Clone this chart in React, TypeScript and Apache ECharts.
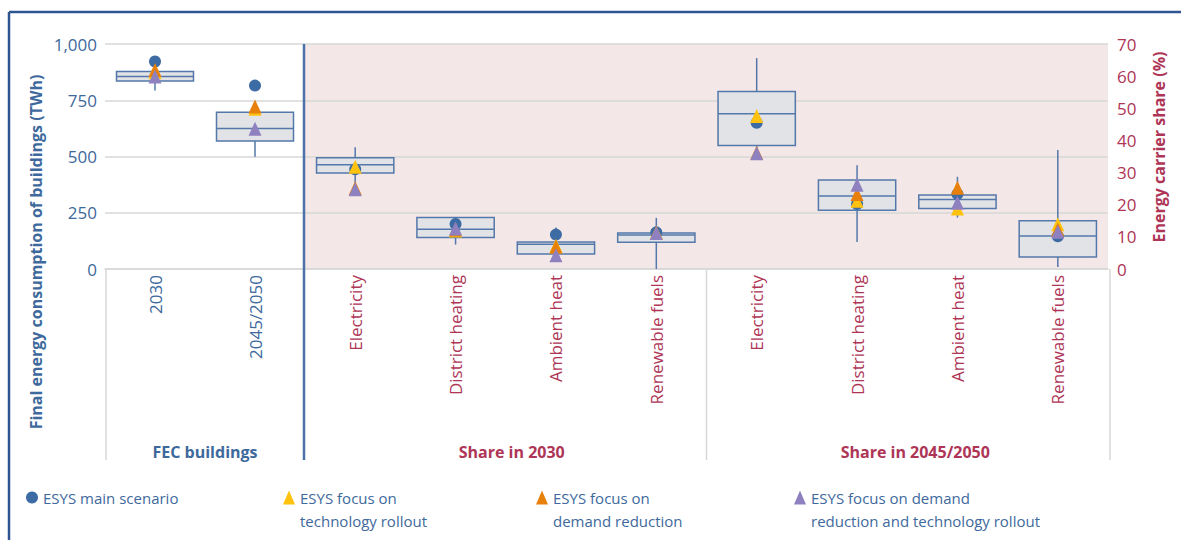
import React, { useEffect, useRef } from 'react';
import * as echarts from 'echarts';

// ---------- data ----------
const fecCategories = ['2030', '2045/2050'];
const shareCategories = [
  'Electricity', 'District heating', 'Ambient heat', 'Renewable fuels',
  'Electricity', 'District heating', 'Ambient heat', 'Renewable fuels',
];
const groupLabels = ['FEC buildings', 'Share in 2030', 'Share in 2045/2050'];

// box statistics: [min, Q1, median, Q3, max]
const fecBoxes = [
  [793, 836, 856, 878, 878],
  [499, 569, 624, 697, 697],
];
const shareBoxes = [
  [24.5, 29.9, 32.4, 34.6, 37.9],
  [7.6, 9.8, 12.4, 16.0, 16.0],
  [4.3, 4.7, 7.7, 8.4, 12.9],
  [0.0, 8.3, 10.6, 11.2, 15.9],
  [34.4, 38.4, 48.3, 55.2, 65.6],
  [8.4, 18.3, 22.7, 27.7, 32.3],
  [16.0, 18.8, 21.6, 23.0, 28.7],
  [0.6, 3.7, 10.3, 15.0, 37.0],
];

const scenarioNames = [
  'ESYS main scenario',
  'ESYS focus on\ntechnology rollout',
  'ESYS focus on\ndemand reduction',
  'ESYS focus on demand\nreduction and technology rollout',
];
const mainFec = [922, 815];
const mainShare = [31.0, 14.0, 10.7, 11.4, 45.5, 20.2, 23.3, 10.2];
const techFec = [875, 712];
const techShare = [31.8, 12.0, 7.2, 11.3, 47.6, 21.2, 18.8, 13.9];
const demandFec = [885, 722];
const demandShare = [25.2, 12.3, 6.9, 11.3, 36.2, 23.3, 25.3, 12.3];
const bothFec = [856, 623];
const bothShare = [24.8, 12.6, 4.3, 11.2, 36.0, 26.2, 20.6, 11.6];

const fecAxis = { min: 0, max: 1000, interval: 250 };
const shareAxis = { min: 0, max: 70, interval: 10 };

// ---------- styles ----------
const FONT = '"Open Sans", sans-serif';
const BLUE_TXT = '#3E699C';
const RED_TXT = '#AE3556';
const BOX_LINE = '#5478AA';
const BOX_FILL = '#E2E3E6';
const GRID_LINE = '#D7D7D7';
const PINK = '#F4E7E8';
const FRAME = '#2E5591';
const colors = ['#3D6BA3', '#FFC20E', '#E8810C', '#8F80BF'];
const symbols = ['circle', 'triangle', 'triangle', 'triangle'];

const G_TOP = 44;
const G_H = 225;
const G0_LEFT = 105;
const G0_W = 200;
const G1_LEFT = 305;
const G1_W = 803;
const SEP_BOTTOM = 460;

const renderBox = (params: any, api: any) => {
  const x = api.value(0);
  const lo = api.coord([x, api.value(1)]);
  const q1 = api.coord([x, api.value(2)]);
  const md = api.coord([x, api.value(3)]);
  const q3 = api.coord([x, api.value(4)]);
  const hi = api.coord([x, api.value(5)]);
  const bw = api.size([1, 0])[0] * 0.77;
  const cx = lo[0];
  const ls = { stroke: BOX_LINE, lineWidth: 1.5 };
  return {
    type: 'group',
    children: [
      { type: 'line', shape: { x1: cx, y1: lo[1], x2: cx, y2: q1[1] }, style: ls },
      { type: 'line', shape: { x1: cx, y1: q3[1], x2: cx, y2: hi[1] }, style: ls },
      {
        type: 'rect',
        shape: { x: cx - bw / 2, y: q3[1], width: bw, height: q1[1] - q3[1] },
        style: { fill: BOX_FILL, stroke: BOX_LINE, lineWidth: 1.5 },
      },
      { type: 'line', shape: { x1: cx - bw / 2, y1: md[1], x2: cx + bw / 2, y2: md[1] }, style: ls },
    ],
  };
};

function buildOption() {
  const fecSets = [mainFec, techFec, demandFec, bothFec];
  const shareSets = [mainShare, techShare, demandShare, bothShare];
  const scatter: any[] = [];
  scenarioNames.forEach((name, i) => {
    const common = {
      type: 'scatter',
      name,
      symbol: symbols[i],
      symbolSize: i === 0 ? 12 : [13, 14],
      itemStyle: { color: colors[i], opacity: 1 },
      z: 5 + i,
    };
    scatter.push({ ...common, xAxisIndex: 0, yAxisIndex: 0, data: fecSets[i] });
    scatter.push({ ...common, xAxisIndex: 1, yAxisIndex: 2, data: shareSets[i] });
  });

  const catLabel = (color: string) => ({
    rotate: 90,
    color,
    fontSize: 17,
    fontFamily: FONT,
    margin: 6,
    interval: 0,
  });

  const legendLefts = [26, 283, 536, 794];
  const legends = scenarioNames.map((name, i) => {
    const twoLine = name.includes('\n');
    return {
      data: [name],
      left: legendLefts[i],
      top: twoLine ? 463 : 486,
      padding: 0,
      itemWidth: 12,
      itemHeight: 14,
      itemGap: 0,
      selectedMode: false,
      // a leading blank line puts the first text line level with the icon
      formatter: (n: string) => (n.includes('\n') ? '\n' + n : n),
      textStyle: {
        color: BLUE_TXT,
        fontSize: 15,
        fontFamily: FONT,
        lineHeight: 23,
      },
    };
  });

  const band1 = G1_W / shareCategories.length;
  const mid2030 = G1_LEFT + band1 * 2;
  const sepMid = G1_LEFT + band1 * 4;
  const mid2045 = G1_LEFT + band1 * 6;

  const groupText = (x: number, text: string, color: string) => ({
    type: 'text',
    x,
    y: 452,
    style: {
      text,
      fill: color,
      font: `bold 16px ${FONT}`,
      textAlign: 'center',
      textVerticalAlign: 'middle',
    },
  });

  const vline = (x: number, y1: number, y2: number, color: string, w: number) => ({
    type: 'line',
    shape: { x1: x, y1, x2: x, y2 },
    style: { stroke: color, lineWidth: w },
    z: 10,
  });

  return {
    animation: false,
    backgroundColor: '#ffffff',
    grid: [
      { left: G0_LEFT, top: G_TOP, width: G0_W, height: G_H, show: false },
      {
        left: G1_LEFT,
        top: G_TOP,
        width: G1_W,
        height: G_H,
        show: true,
        backgroundColor: PINK,
        borderWidth: 0,
      },
    ],
    xAxis: [
      {
        gridIndex: 0,
        type: 'category',
        data: fecCategories,
        axisLine: { lineStyle: { color: GRID_LINE, width: 1.5 } },
        axisTick: { show: false },
        axisLabel: catLabel(BLUE_TXT),
      },
      {
        gridIndex: 1,
        type: 'category',
        data: shareCategories,
        axisLine: { lineStyle: { color: GRID_LINE, width: 1.5 } },
        axisTick: { show: false },
        axisLabel: catLabel(RED_TXT),
      },
    ],
    yAxis: [
      {
        gridIndex: 0,
        type: 'value',
        position: 'left',
        ...fecAxis,
        axisLine: { show: false },
        axisTick: { show: false },
        axisLabel: {
          color: BLUE_TXT,
          fontSize: 17,
          fontFamily: FONT,
          margin: 8,
          formatter: (v: number) => v.toLocaleString('en-US'),
        },
        splitLine: { lineStyle: { color: GRID_LINE, width: 1.5 } },
      },
      {
        gridIndex: 1,
        type: 'value',
        position: 'left',
        ...fecAxis,
        axisLine: { show: false },
        axisTick: { show: false },
        axisLabel: { show: false },
        splitLine: { lineStyle: { color: GRID_LINE, width: 1.5 } },
      },
      {
        gridIndex: 1,
        type: 'value',
        position: 'right',
        ...shareAxis,
        axisLine: { show: false },
        axisTick: { show: false },
        axisLabel: { color: RED_TXT, fontSize: 17, fontFamily: FONT, margin: 9 },
        splitLine: { show: false },
      },
    ],
    legend: legends,
    series: [
      {
        type: 'custom',
        name: 'FEC box',
        xAxisIndex: 0,
        yAxisIndex: 0,
        renderItem: renderBox,
        encode: { x: 0, y: [1, 2, 3, 4, 5] },
        data: fecBoxes.map((b, i) => [i, ...b]),
        z: 3,
      },
      {
        type: 'custom',
        name: 'Share box',
        xAxisIndex: 1,
        yAxisIndex: 2,
        renderItem: renderBox,
        encode: { x: 0, y: [1, 2, 3, 4, 5] },
        data: shareBoxes.map((b, i) => [i, ...b]),
        z: 3,
      },
      ...scatter,
    ],
    graphic: [
      // frame
      { type: 'line', shape: { x1: 9, y1: 12, x2: 1181, y2: 12 }, style: { stroke: FRAME, lineWidth: 2.5 } },
      { type: 'line', shape: { x1: 9, y1: 12, x2: 9, y2: 540 }, style: { stroke: FRAME, lineWidth: 2.5 } },
      // separators
      vline(G0_LEFT + 1, G_TOP + G_H, SEP_BOTTOM, GRID_LINE, 1.5),
      vline(sepMid, G_TOP + G_H, SEP_BOTTOM, GRID_LINE, 1.5),
      vline(G1_LEFT + G1_W + 2, G_TOP + G_H, SEP_BOTTOM, GRID_LINE, 1.5),
      vline(G1_LEFT - 1, G_TOP, SEP_BOTTOM, '#4A72A8', 2.5),
      // group labels
      groupText(G0_LEFT + G0_W / 2, groupLabels[0], BLUE_TXT),
      groupText(mid2030 + 6, groupLabels[1], RED_TXT),
      groupText(mid2045 + 8, groupLabels[2], RED_TXT),
      // axis titles
      {
        type: 'text',
        x: 36,
        y: 252,
        rotation: Math.PI / 2,
        style: {
          text: 'Final energy consumption of buildings (TWh)',
          fill: BLUE_TXT,
          font: `bold 16px ${FONT}`,
          textAlign: 'center',
          textVerticalAlign: 'middle',
        },
      },
      {
        type: 'text',
        x: 1159,
        y: 147,
        rotation: Math.PI / 2,
        style: {
          text: 'Energy carrier share (%)',
          fill: RED_TXT,
          font: `bold 16px ${FONT}`,
          textAlign: 'center',
          textVerticalAlign: 'middle',
        },
      },
    ],
  };
}

export default function App() {
  const ref = useRef<HTMLDivElement>(null);
  useEffect(() => {
    if (!ref.current) return;
    const chart = echarts.init(ref.current, null, { renderer: 'svg' });
    chart.setOption(buildOption() as any);
    return () => chart.dispose();
  }, []);
  return (
    <div
      ref={ref}
      style={{ position: 'absolute', left: 0, top: 0, width: 1181, height: 540, background: '#fff' }}
    />
  );
}
